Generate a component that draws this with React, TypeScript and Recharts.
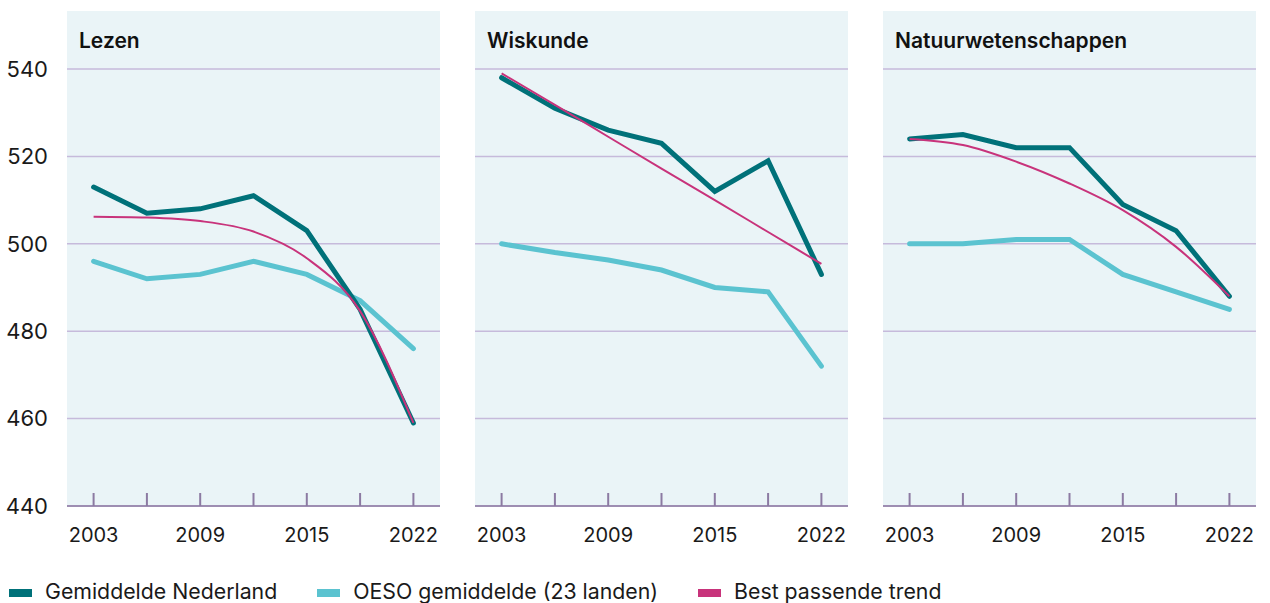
import React from 'react';
import { LineChart, Line, XAxis, YAxis, CartesianGrid } from 'recharts';

const years = ['2003', '2006', '2009', '2012', '2015', '2018', '2022'];
const labeledYears = ['2003', '2009', '2015', '2022'];
const yTicks = [440, 460, 480, 500, 520, 540];
const panelTitles = ['Lezen', 'Wiskunde', 'Natuurwetenschappen'];
const seriesNames = ['Gemiddelde Nederland', 'OESO gemiddelde (23 landen)', 'Best passende trend'];

const lezenNL = [513, 507, 508, 511, 503, 485, 459];
const lezenOESO = [496, 492, 493, 496, 493, 487, 476];
const lezenTrend = [506.2, 506, 505.2, 502.8, 496.7, 484.6, 459];

const wiskundeNL = [538, 531, 526, 523, 512, 519, 493];
const wiskundeOESO = [500, 498, 496.3, 494, 490, 489, 472];
const wiskundeTrend = [539, 531.8, 524.5, 517.2, 510, 502.7, 495.4];

const natuurNL = [524, 525, 522, 522, 509, 503, 488];
const natuurOESO = [500, 500, 501, 501, 493, 489, 485];
const natuurTrend = [524, 522.6, 518.8, 513.8, 507.7, 499.3, 488];

const COLORS = ['#007179', '#5bc3d0', '#c8337b'];
const BG = '#eaf4f7';
const GRID = '#c6badb';
const AXIS = '#8c7aa2';
const FONT = 'Inter, "Noto Sans", sans-serif';

const buildRows = (nl: number[], oeso: number[], trend: number[]) =>
  years.map((year, i) => ({ year, nl: nl[i], oeso: oeso[i], trend: trend[i] }));

const XTick = (props: any) => {
  const { x, y, payload } = props;
  const show = labeledYears.includes(String(payload.value));
  return (
    <g>
      <line x1={x} x2={x} y1={y} y2={y - 13} stroke={AXIS} strokeWidth={2} />
      {show && (
        <text
          x={x}
          y={y + 22}
          dy="0.71em"
          textAnchor="middle"
          fontFamily={FONT}
          fontSize={20}
          fill="#1a1a1a"
        >
          {payload.value}
        </text>
      )}
    </g>
  );
};

type PanelProps = {
  title: string;
  nl: number[];
  oeso: number[];
  trend: number[];
  left: number;
  showY: boolean;
};

const PLOT_W = 373;
const Y_W = 67;
const CHART_H = 560;
const PANEL_TOP = 11;
const PLOT_TOP = 69;
const X_H = 54;

const Panel = ({ title, nl, oeso, trend, left, showY }: PanelProps) => {
  const data = buildRows(nl, oeso, trend);
  const width = PLOT_W + (showY ? Y_W : 0);
  const plotLeft = left + (showY ? Y_W : 0);
  return (
    <>
      <div
        style={{
          position: 'absolute',
          left: plotLeft,
          top: PANEL_TOP,
          width: PLOT_W,
          height: CHART_H - X_H - PANEL_TOP,
          background: BG,
        }}
      />
      <div style={{ position: 'absolute', left, top: 0 }}>
        <LineChart
          width={width}
          height={CHART_H}
          data={data}
          margin={{ top: PLOT_TOP, right: 0, bottom: 0, left: 0 }}
        >
          <CartesianGrid vertical={false} horizontal={true} stroke={GRID} strokeWidth={1.5} />
          <XAxis
            dataKey="year"
            type="category"
            interval={0}
            height={X_H}
            padding={{ left: 26.6, right: 26.6 }}
            axisLine={{ stroke: AXIS, strokeWidth: 1.5 }}
            tickLine={false}
            tickSize={0}
            tickMargin={0}
            tick={<XTick />}
          />
          <YAxis
            domain={[440, 540]}
            allowDataOverflow={true}
            ticks={yTicks}
            hide={!showY}
            width={showY ? Y_W : 0}
            axisLine={false}
            tickLine={false}
            tickSize={0}
            tickMargin={19}
            tick={{ fontFamily: FONT, fontSize: 22, fill: '#1a1a1a' }}
          />
          <Line
            dataKey="oeso"
            stroke={COLORS[1]}
            strokeWidth={5}
            strokeLinecap="round"
            dot={false}
            activeDot={false}
            isAnimationActive={false}
            type="linear"
          />
          <Line
            dataKey="nl"
            stroke={COLORS[0]}
            strokeWidth={5}
            strokeLinecap="round"
            dot={false}
            activeDot={false}
            isAnimationActive={false}
            type="linear"
          />
          <Line
            dataKey="trend"
            stroke={COLORS[2]}
            strokeWidth={2}
            dot={false}
            activeDot={false}
            isAnimationActive={false}
            type="monotone"
          />
        </LineChart>
      </div>
      <div
        style={{
          position: 'absolute',
          left: plotLeft + 12,
          top: 30,
          fontFamily: FONT,
          fontSize: 21,
          fontWeight: 600,
          lineHeight: '21px',
          color: '#111',
          whiteSpace: 'nowrap',
        }}
      >
        {title}
      </div>
    </>
  );
};

export default function App() {
  return (
    <div
      style={{
        position: 'absolute',
        left: 0,
        top: 0,
        width: 1270,
        height: 603,
        overflow: 'hidden',
        background: '#fff',
      }}
    >
      <Panel title={panelTitles[0]} nl={lezenNL} oeso={lezenOESO} trend={lezenTrend} left={0} showY={true} />
      <Panel title={panelTitles[1]} nl={wiskundeNL} oeso={wiskundeOESO} trend={wiskundeTrend} left={475} showY={false} />
      <Panel title={panelTitles[2]} nl={natuurNL} oeso={natuurOESO} trend={natuurTrend} left={883} showY={false} />
      <div
        style={{
          position: 'absolute',
          left: 9,
          top: 581,
          display: 'flex',
          gap: 40,
          fontFamily: FONT,
          fontSize: 21.3,
          lineHeight: '21px',
          color: '#1a1a1a',
          whiteSpace: 'nowrap',
        }}
      >
        {seriesNames.map((name, i) => (
          <div key={name} style={{ display: 'flex', alignItems: 'center' }}>
            <span
              style={{
                display: 'inline-block',
                width: 23,
                height: 8,
                background: COLORS[i],
                marginRight: 13,
                position: 'relative',
                top: 1,
              }}
            />
            <span>{name}</span>
          </div>
        ))}
      </div>
    </div>
  );
}
